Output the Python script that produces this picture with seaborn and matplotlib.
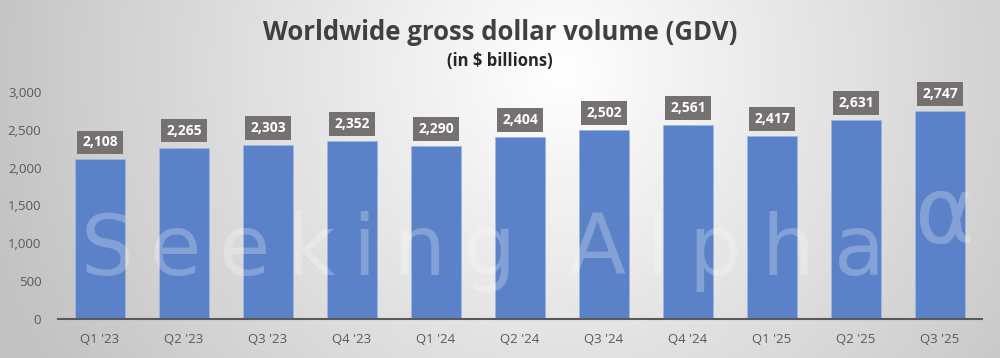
import numpy as np
import pandas as pd
import seaborn as sns
import matplotlib.pyplot as plt

# Data
quarters = ["Q1 '23", "Q2 '23", "Q3 '23", "Q4 '23", "Q1 '24", "Q2 '24",
            "Q3 '24", "Q4 '24", "Q1 '25", "Q2 '25", "Q3 '25"]
gdv = [2108, 2265, 2303, 2352, 2290, 2404, 2502, 2561, 2417, 2631, 2747]
y_ticks = [0, 500, 1000, 1500, 2000, 2500, 3000]

df = pd.DataFrame({"quarter": quarters, "gdv": gdv})

sns.set_style("white")
plt.rcParams["font.family"] = ["Open Sans", "DejaVu Sans"]

W, H = 1000, 358
fig = plt.figure(figsize=(W / 100, H / 100), dpi=100)

# radial grey background
bg = fig.add_axes([0, 0, 1, 1], zorder=-10)
yy, xx = np.mgrid[0:H, 0:W]
d = np.sqrt((xx - 560) ** 2 + (yy - 70) ** 2)
shade = 1.0 - 0.24 * np.clip(d / 600, 0, 1)
bg.imshow(np.dstack([shade] * 3), aspect="auto", extent=[0, 1, 0, 1])
bg.set_axis_off()

ax = fig.add_axes([0.058, 0.109, 0.924, 0.634])
ax.set_facecolor("none")

sns.barplot(data=df, x="quarter", y="gdv", color="#5B82C9", saturation=1,
            width=0.6, ax=ax, edgecolor="#9fb6e0", linewidth=0.6)

ax.set_xlim(-0.5, len(quarters) - 0.5)
ax.set_ylim(0, 3000)
ax.set_yticks(y_ticks)
ax.set_yticklabels([f"{t:,}" for t in y_ticks])
ax.tick_params(axis="both", length=0, labelsize=9.5, colors="#595959")
ax.tick_params(axis="x", pad=10)
ax.tick_params(axis="y", pad=12)
ax.set_xlabel("")
ax.set_ylabel("")
for s in ["top", "right", "left"]:
    ax.spines[s].set_visible(False)
ax.spines["bottom"].set_color("#595959")
ax.spines["bottom"].set_linewidth(1.5)

# value labels
for i, v in enumerate(gdv):
    ax.annotate(f"{v:,}", xy=(i, v), xytext=(0, 17), textcoords="offset pixels",
                ha="center", va="center", fontsize=10, fontweight="bold",
                color="white", annotation_clip=False,
                bbox=dict(boxstyle="square,pad=0.35", fc="#767171", ec="none"))

# watermark, letter-spaced
renderer = fig.canvas.get_renderer()
for word, x, gap in [("Seeking", 80, 17), ("Alpha", 568, 20)]:
    for ch in word:
        t = fig.text(x / W, 0.232, ch, fontsize=60, color="white", alpha=0.25,
                     ha="left", va="baseline", family="DejaVu Sans")
        x += t.get_window_extent(renderer).width + gap
fig.text(915 / W, 0.32, "α", fontsize=66, color="white", alpha=0.25,
         ha="left", va="baseline", family="DejaVu Sans")

fig.text(0.5, 0.91, "Worldwide gross dollar volume (GDV)", ha="center",
         va="center", fontsize=18.5, fontweight="bold", color="#404040")
fig.text(0.5, 0.83, "(in $ billions)", ha="center", va="center",
         fontsize=12, fontweight="bold", color="#262626")

fig.savefig("out.png", dpi=100)
